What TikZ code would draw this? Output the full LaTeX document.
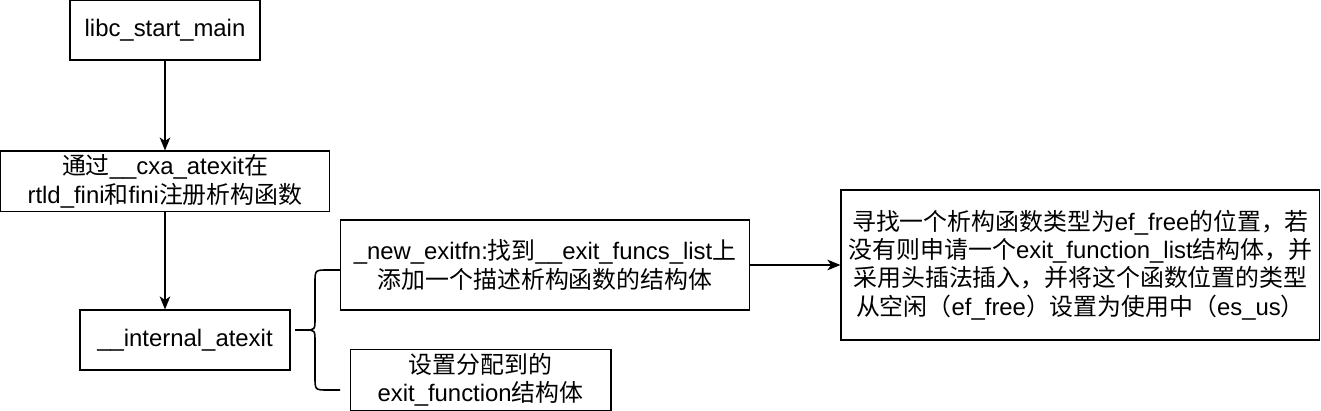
\documentclass[tikz,border=0pt]{standalone}
\usepackage{fontspec}
\setmainfont{Liberation Sans}
\newfontfamily\cjk{Noto Sans CJK SC}
\newcommand{\zh}[1]{{\cjk #1}}
\newcommand{\boxfont}{\fontsize{13.6}{16.2}\selectfont\lineskiplimit=-20pt\relax\lineskip=0pt\relax}
\usetikzlibrary{positioning,arrows.meta}

\begin{document}
\begin{tikzpicture}[
x=0.02cm,y=-0.02cm,
node distance=1.8cm,
box/.style={rectangle,draw=black,line width=0.6pt,fill=white,
minimum height=1.2cm,align=center,inner sep=2pt,font=\boxfont},
arrow/.style={-{Stealth[length=2.6mm,width=2.1mm,inset=0.7mm]},line width=1.1pt},
brace/.style={line width=0.9pt}
]
\useasboundingbox (0,0) rectangle (1321,411);
\node[box,minimum width=3.8cm] (start) at (165,30) {libc\_start\_main};
\node[box,minimum width=6.6cm,below=of start] (cxa) {\zh{通过}\_\_cxa\_atexit\zh{在}\\rtld\_fini\zh{和}fini\zh{注册析构函数}};
\node[box,minimum width=4.2cm] (internal) at (185,340) {\_\_internal\_atexit};
\node[box,minimum width=8.2cm,minimum height=1.8cm] (newfn) at (545,265) {\_new\_exitfn:\zh{找到}\_\_exit\_funcs\_list\zh{上}\\\zh{添加一个描述析构函数的结构体}};
\node[box,minimum width=5.22cm] (setfn) at (480.5,380) {\zh{设置分配到的}\\exit\_function\zh{结构体}};
\node[box,minimum width=9.58cm,minimum height=3cm,right=of newfn] (search) {\zh{寻找一个析构函数类型为}ef\_free\zh{的位置，若}\\\zh{没有则申请一个}exit\_function\_list\zh{结构体，并}\\\zh{采用头插法插入，并将这个函数位置的类型}\\\zh{从空闲（}ef\_free\zh{）设置为使用中（}es\_us\zh{）}};
\draw[arrow] (start)--(cxa); \draw[arrow] (cxa.south)--(cxa.south |- internal.north); \draw[arrow] (newfn)--(search);
% brace from __internal_atexit to the two sub steps
\coordinate (brtip) at (295,330); \coordinate (brtop) at (340,270); \coordinate (brbot) at (340,390);
\draw[brace] (brtop) -- (328,270) .. controls (315,270) .. (315,283) -- (315,318) .. controls (315,330) .. (305,330) -- (brtip);
\draw[brace] (305,330) .. controls (315,330) .. (315,342) -- (315,377) .. controls (315,390) .. (328,390) -- (brbot);
\end{tikzpicture}
\end{document}
